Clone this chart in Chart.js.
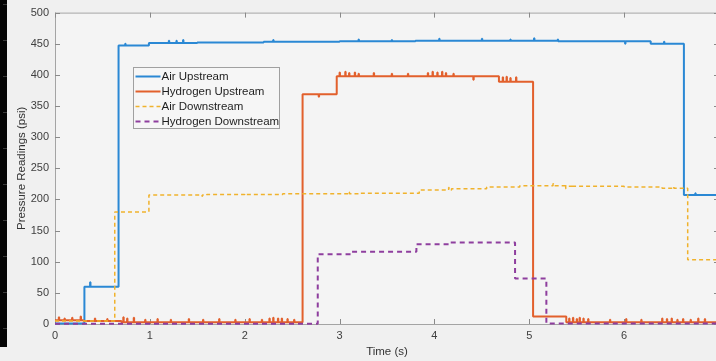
<!DOCTYPE html>
<html>
<head>
<meta charset="utf-8">
<script src="https://cdn.jsdelivr.net/npm/chart.js@4.4.0/dist/chart.umd.min.js"></script>
<style>
    html, body { margin: 0; padding: 0; background: #f0f0f0; overflow: hidden; }
    #wrap { position: relative; width: 716px; height: 361px; overflow: hidden; }
    #graph { position: absolute; left: 0; top: 0; }
    #strip { position: absolute; left: 0; top: 0; width: 7px; height: 347px; background: #050505; }
    #strip div {
        position: absolute; left: 3px; top: 0; width: 4px; height: 347px;
        background: repeating-linear-gradient(to bottom, transparent 0, transparent 4px, #3a3a3a 4px, #3a3a3a 5px, transparent 5px, transparent 36px);
    }
</style>
</head>
<body>
<div id="wrap">
    <canvas id="graph" width="724" height="361"></canvas>
    <div id="strip"><div></div></div>
</div>
<script>
// step levels (time in s, pressure in psi) + narrow spikes
const airUpT = [0, 0.31, 0.67, 0.99, 1.5, 2.2, 3.0, 3.8, 4.6, 5.3, 5.9, 6.28, 6.63, 7];
const airUpV = [1, 60, 447, 451, 452, 453, 454, 455, 455, 454, 454, 450, 207, 206];
const airUpSpikeT = [0.37, 0.74, 1.2, 1.28, 1.35, 2.3, 3.2, 3.55, 4.05, 4.5, 4.8, 5.05, 5.3, 6.01, 6.42, 6.75];
const airUpSpikeV = [67, 450, 455, 455, 456, 456, 457, 456, 458, 458, 457, 459, 457, 450, 453, 210];

const h2UpT = [0, 0.3, 0.7, 2.61, 2.97, 4.68, 5.04, 5.39, 7];
const h2UpV = [6, 5, 3, 369, 398, 389, 12, 3, 3];
const h2UpSpikeT = [0.04, 0.1, 0.18, 0.27, 0.42, 0.55, 0.72, 0.76, 0.83, 0.95, 1.08, 1.22, 1.41, 1.56, 1.73, 1.9,
    2.05, 2.18, 2.26, 2.3, 2.35, 2.39, 2.45, 2.52, 2.78, 3.0, 3.06, 3.1, 3.16, 3.2, 3.36, 3.55, 3.72, 3.93, 3.98,
    4.03, 4.08, 4.12, 4.2, 4.41, 4.72, 4.76, 4.8, 4.86, 5.42, 5.46, 5.5, 5.53, 5.57, 5.62, 5.85, 6.02, 6.18, 6.4,
    6.45, 6.5, 6.56, 6.62, 6.7, 6.78, 6.85];
const h2UpSpikeV = [11, 9, 10, 12, 9, 8, 11, 9, 10, 7, 8, 7, 8, 7, 8, 7,
    8, 7, 9, 10, 9, 9, 8, 7, 365, 404, 405, 403, 404, 402, 403, 402, 402, 403, 405,
    404, 405, 403, 402, 392, 396, 397, 395, 396, 9, 10, 8, 10, 9, 8, 7, 8, 7, 9,
    8, 9, 7, 8, 7, 9, 8];

const airDownT = [0, 0.63, 0.99, 1.6, 2.4, 3.2, 3.84, 4.18, 4.55, 4.9, 5.4, 6.0, 6.4, 6.67, 7];
const airDownV = [5, 180, 207, 208, 209, 210, 215, 217, 220, 222, 221, 220, 218, 103, 104];
const airDownSpikeT = [1.55, 2.0, 3.1, 4.15, 5.25, 5.38, 5.45, 6.52];
const airDownSpikeV = [205, 209, 212, 219, 225, 217, 224, 220];

const h2DownT = [0, 2.77, 3.13, 3.81, 4.16, 4.85, 5.18, 7];
const h2DownV = [0.5, 112, 116, 128, 131, 73, 1, 1];

const xTicks = [0, 1, 2, 3, 4, 5, 6, 7];
const yTicks = [0, 50, 100, 150, 200, 250, 300, 350, 400, 450, 500];

function buildSeries(t, v, spikeT, spikeV) {
    let pts = t.map((x, i) => ({ x: x, y: v[i] }));
    spikeT.forEach((st, i) => {
        let base = v[0];
        for (let j = 0; j < t.length; j++) {
            if (t[j] <= st) base = v[j];
        }
        pts.push({ x: st, y: spikeV[i] }, { x: st + 0.004, y: base });
    });
    pts.sort((a, b) => a.x - b.x);
    return pts;
}

const fontFam = '"Liberation Sans", Arial, Helvetica, sans-serif';

// MATLAB style box, inward ticks and the legend
const matlabAxes = {
    id: 'matlabAxes',
    beforeDraw(chart) {
        const { ctx, chartArea: a } = chart;
        ctx.save();
        ctx.fillStyle = '#f4f4f4';
        ctx.fillRect(a.left, a.top, a.right - a.left, a.bottom - a.top);
        ctx.restore();
    },
    beforeDatasetsDraw(chart) {
        const { ctx, chartArea: a, scales } = chart;
        ctx.save();
        ctx.strokeStyle = '#a4a4a4';
        ctx.lineWidth = 1;
        ctx.strokeRect(a.left + 0.5, a.top + 0.5, a.right - a.left, a.bottom - a.top);
        ctx.strokeStyle = '#8a8a8a';
        ctx.beginPath();
        xTicks.forEach(v => {
            const px = Math.round(scales.x.getPixelForValue(v)) + 0.5;
            ctx.moveTo(px, a.bottom); ctx.lineTo(px, a.bottom - 5);
            ctx.moveTo(px, a.top); ctx.lineTo(px, a.top + 5);
        });
        yTicks.forEach(v => {
            const py = Math.round(scales.y.getPixelForValue(v)) + 0.5;
            ctx.moveTo(a.left, py); ctx.lineTo(a.left + 5, py);
            ctx.moveTo(a.right, py); ctx.lineTo(a.right - 5, py);
        });
        ctx.stroke();
        ctx.restore();
    },
    afterDatasetsDraw(chart) {
        const ctx = chart.ctx;
        const bx = 133.5, by = 67.5, bw = 146, bh = 61;
        ctx.save();
        ctx.fillStyle = '#f6f6f6';
        ctx.fillRect(bx, by, bw, bh);
        ctx.strokeStyle = '#a0a0a0';
        ctx.lineWidth = 1;
        ctx.strokeRect(bx, by, bw, bh);
        ctx.font = '11.5px ' + fontFam;
        ctx.textBaseline = 'middle';
        chart.data.datasets.forEach((ds, i) => {
            const y = Math.round(by + 8 + i * 15) + 0.5;
            ctx.strokeStyle = ds.borderColor;
            ctx.lineWidth = ds.borderWidth;
            ctx.setLineDash(ds.borderDash || []);
            ctx.beginPath();
            ctx.moveTo(bx + 2, y);
            ctx.lineTo(bx + 27, y);
            ctx.stroke();
            ctx.setLineDash([]);
            ctx.fillStyle = '#1e1e1e';
            ctx.fillText(ds.label, bx + 28, y);
        });
        ctx.restore();
    }
};

const canvas = document.getElementById('graph').getContext('2d');

new Chart(canvas, {
    type: 'line',
    data: {
        datasets: [
            {
                label: 'Air Upstream',
                data: buildSeries(airUpT, airUpV, airUpSpikeT, airUpSpikeV),
                borderColor: '#2a88d4',
                borderWidth: 2,
                order: 4
            },
            {
                label: 'Hydrogen Upstream',
                data: buildSeries(h2UpT, h2UpV, h2UpSpikeT, h2UpSpikeV),
                borderColor: '#e2602c',
                borderWidth: 2,
                order: 3
            },
            {
                label: 'Air Downstream',
                data: buildSeries(airDownT, airDownV, airDownSpikeT, airDownSpikeV),
                borderColor: '#f0b22c',
                borderWidth: 1.5,
                borderDash: [4, 3],
                order: 2
            },
            {
                label: 'Hydrogen Downstream',
                data: buildSeries(h2DownT, h2DownV, [], []),
                borderColor: '#8e3e9e',
                borderWidth: 2,
                borderDash: [5, 4],
                order: 1
            }
        ]
    },
    options: {
        responsive: false,
        animation: false,
        events: [],
        layout: { padding: { top: 10, right: 4, left: 0, bottom: 0 } },
        elements: {
            point: { radius: 0 },
            line: { stepped: true, tension: 0, borderJoinStyle: 'bevel' }
        },
        datasets: { line: { clip: false } },
        plugins: {
            legend: { display: false },
            tooltip: { enabled: false }
        },
        scales: {
            x: {
                type: 'linear',
                min: 0,
                max: 7,
                afterFit: s => { s.height = 37; },
                afterBuildTicks: s => { s.ticks = xTicks.map(v => ({ value: v })); },
                grid: { display: false, drawTicks: false },
                border: { display: false },
                ticks: {
                    padding: 5, color: '#404040', font: { family: fontFam, size: 11 }, maxRotation: 0, autoSkip: false,
                    // the last label sits past the cropped right edge
                    callback: v => (v === 7 ? '' : v)
                },
                title: { display: true, text: 'Time (s)', color: '#333', padding: { top: 0, bottom: 2 }, font: { family: fontFam, size: 11.5 } }
            },
            y: {
                type: 'linear',
                min: 0,
                max: 500,
                afterFit: s => { s.width = 55; },
                afterBuildTicks: s => { s.ticks = yTicks.map(v => ({ value: v })); },
                grid: { display: false, drawTicks: false },
                border: { display: false },
                ticks: { padding: 6, color: '#404040', font: { family: fontFam, size: 11 }, autoSkip: false },
                title: { display: true, text: 'Pressure Readings (psi)', color: '#333', padding: { top: 15, bottom: 0 }, font: { family: fontFam, size: 11.5 } }
            }
        }
    },
    plugins: [matlabAxes]
});
</script>
</body>
</html>
